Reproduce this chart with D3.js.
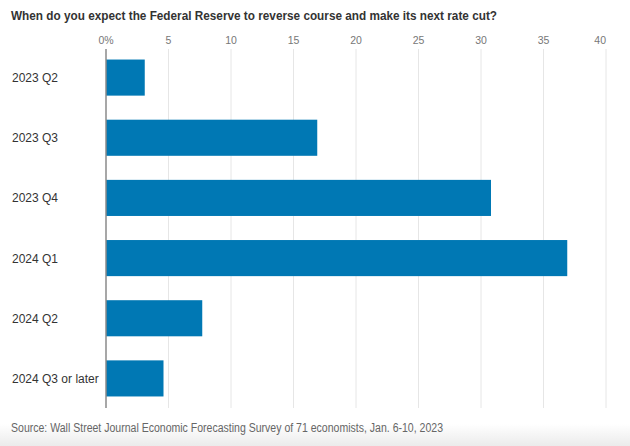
<!DOCTYPE html>
<html>
<head>
<meta charset="utf-8">
<script src="https://cdn.jsdelivr.net/npm/d3@7"></script>
<style>
  html, body { margin: 0; padding: 0; background: #fff; }
  svg { display: block; }
</style>
</head>
<body>
<script>
const categories = ["2023 Q2", "2023 Q3", "2023 Q4", "2024 Q1", "2024 Q2", "2024 Q3 or later"];
const values = [3.1, 16.9, 30.8, 36.9, 7.7, 4.6];
const tickValues = [0, 5, 10, 15, 20, 25, 30, 35, 40];
const tickLabels = ["0%", "5", "10", "15", "20", "25", "30", "35", "40"];
const titleText = "When do you expect the Federal Reserve to reverse course and make its next rate cut?";
const sourceText = "Source: Wall Street Journal Economic Forecasting Survey of 71 economists, Jan. 6-10, 2023";

const W = 630, H = 446;
const svg = d3.select("body").append("svg").attr("width", W).attr("height", H);

const defs = svg.append("defs");
const grad = defs.append("linearGradient").attr("id", "bottomfade")
  .attr("x1", 0).attr("y1", 0).attr("x2", 0).attr("y2", 1);
grad.append("stop").attr("offset", "0%").attr("stop-color", "#ffffff");
grad.append("stop").attr("offset", "100%").attr("stop-color", "#ebebeb");

svg.append("rect").attr("x", 0).attr("y", 0).attr("width", W).attr("height", H).attr("fill", "#fff");
svg.append("rect").attr("x", 0).attr("y", 424).attr("width", W).attr("height", H - 424).attr("fill", "url(#bottomfade)");

const x = d3.scaleLinear().domain([0, 40]).range([106, 606]);
const y = d3.scaleBand().domain(categories).range([47.5, 408.5]).paddingInner(0.4).paddingOuter(0.2);

const font = "'Liberation Sans Narrow', 'Liberation Sans', Arial, sans-serif";

// title
svg.append("text")
  .attr("x", 11).attr("y", 20)
  .attr("font-family", "'Liberation Sans', Arial, sans-serif")
  .attr("font-weight", "bold")
  .attr("font-size", 13)
  .attr("fill", "#333")
  .attr("textLength", 486).attr("lengthAdjust", "spacingAndGlyphs")
  .text(titleText);

// gridlines
svg.append("g").selectAll("line").data(tickValues.slice(1)).join("line")
  .attr("x1", d => x(d)).attr("x2", d => x(d))
  .attr("y1", 49).attr("y2", 408)
  .attr("stroke", "#e6e6e6").attr("stroke-width", 1);

// tick labels
svg.append("g").selectAll("text").data(tickValues).join("text")
  .attr("x", (d, i) => i === tickValues.length - 1 ? x(d) : x(d))
  .attr("y", 44)
  .attr("text-anchor", (d, i) => i === tickValues.length - 1 ? "end" : "middle")
  .attr("font-family", font)
  .attr("font-size", 10.5)
  .attr("fill", "#777")
  .text((d, i) => tickLabels[i]);

// bars
svg.append("g").selectAll("rect").data(categories).join("rect")
  .attr("x", x(0))
  .attr("y", d => y(d))
  .attr("width", (d, i) => x(values[i]) - x(0))
  .attr("height", y.bandwidth())
  .attr("fill", "#0078b4");

// zero axis
svg.append("line")
  .attr("x1", x(0)).attr("x2", x(0))
  .attr("y1", 49).attr("y2", 408)
  .attr("stroke", "#8a8a8a").attr("stroke-width", 1.5);

// category labels
svg.append("g").selectAll("text").data(categories).join("text")
  .attr("x", 12)
  .attr("y", d => y(d) + y.bandwidth() / 2 + 4.5)
  .attr("font-family", "'Liberation Sans', Arial, sans-serif")
  .attr("font-size", 12)
  .attr("fill", "#333")
  .text(d => d);

// source
svg.append("text")
  .attr("x", 11).attr("y", 432)
  .attr("font-family", font)
  .attr("font-size", 12)
  .attr("fill", "#666")
  .attr("textLength", 432).attr("lengthAdjust", "spacingAndGlyphs")
  .text(sourceText);
</script>
</body>
</html>
